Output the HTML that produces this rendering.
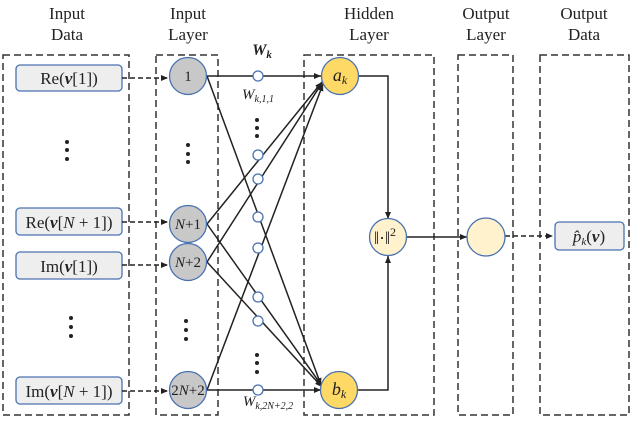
<!DOCTYPE html>
<html><head><meta charset="utf-8"><style>
body{margin:0;background:#fff}
text{font-family:"Liberation Serif",serif;fill:#222}
</style></head><body>
<svg width="632" height="418" viewBox="0 0 632 418" xmlns="http://www.w3.org/2000/svg">
<defs><marker id="a" markerWidth="8" markerHeight="8" refX="7" refY="4" orient="auto" markerUnits="userSpaceOnUse"><path d="M0,1 L7,4 L0,7 Z" fill="#222"/></marker></defs>
<g font-size="17" text-anchor="middle">
<text x="67" y="19">Input</text><text x="67" y="40">Data</text>
<text x="188" y="19">Input</text><text x="188" y="40">Layer</text>
<text x="369" y="19">Hidden</text><text x="369" y="40">Layer</text>
<text x="486" y="19">Output</text><text x="486" y="40">Layer</text>
<text x="584" y="19">Output</text><text x="584" y="40">Data</text>
</g>
<g fill="none" stroke="#333" stroke-width="1.5" stroke-dasharray="7,4">
<rect x="3" y="55" width="126" height="360"/>
<rect x="156" y="55" width="62" height="360"/>
<rect x="304" y="55" width="130" height="360"/>
<rect x="458" y="55" width="55" height="360"/>
<rect x="540" y="55" width="89" height="360"/>
</g>
<g fill="#eeeeee" stroke="#4a72b0" stroke-width="1.3">
<rect x="16" y="65" width="106" height="26" rx="4"/>
<rect x="16" y="208" width="106" height="27" rx="4"/>
<rect x="16" y="252" width="106" height="27" rx="4"/>
<rect x="16" y="377" width="106" height="27" rx="4"/>
<rect x="555" y="222" width="69" height="28" rx="4"/>
</g>
<g font-size="17" text-anchor="middle">
<text x="69" y="84">Re(<tspan font-weight="bold" font-style="italic">v</tspan>[1])</text>
<text x="69" y="228">Re(<tspan font-weight="bold" font-style="italic">v</tspan>[<tspan font-style="italic">N</tspan> + 1])</text>
<text x="69" y="272">Im(<tspan font-weight="bold" font-style="italic">v</tspan>[1])</text>
<text x="69" y="397">Im(<tspan font-weight="bold" font-style="italic">v</tspan>[<tspan font-style="italic">N</tspan> + 1])</text>
<text x="589" y="242"><tspan font-style="italic">p̂</tspan><tspan font-style="italic" font-size="11" dy="3">k</tspan><tspan dy="-3">(</tspan><tspan font-weight="bold" font-style="italic">v</tspan>)</text>
</g>
<g stroke="#222" stroke-width="1.5" stroke-dasharray="5,3" marker-end="url(#a)">
<line x1="122" y1="78" x2="168" y2="78"/>
<line x1="122" y1="222" x2="168" y2="222"/>
<line x1="122" y1="265" x2="168" y2="265"/>
<line x1="122" y1="391" x2="168" y2="391"/>
<line x1="505" y1="236" x2="553" y2="236"/>
</g>
<g stroke="#222" stroke-width="1.5" fill="none" marker-end="url(#a)">
<line x1="207" y1="76" x2="321" y2="76"/>
<line x1="207" y1="76" x2="321" y2="385"/>
<line x1="207" y1="224" x2="322" y2="82"/>
<line x1="207" y1="224" x2="322" y2="386"/>
<line x1="207" y1="262" x2="322" y2="83"/>
<line x1="207" y1="262" x2="322" y2="387"/>
<line x1="207" y1="390" x2="323" y2="84"/>
<line x1="207" y1="390" x2="321" y2="390"/>
<polyline points="358,76 388,76 388,219"/>
<polyline points="358,390 388,390 388,256"/>
<line x1="406" y1="237" x2="467" y2="237"/>
</g>
<g fill="#fff" stroke="#4a72b0" stroke-width="1.3">
<circle cx="258" cy="76" r="5"/><circle cx="258" cy="155" r="5"/><circle cx="258" cy="179" r="5"/>
<circle cx="258" cy="217" r="5"/><circle cx="258" cy="248" r="5"/><circle cx="258" cy="297" r="5"/>
<circle cx="258" cy="321" r="5"/><circle cx="258" cy="390" r="5"/>
</g>
<g fill="#c8c8c8" stroke="#4a72b0" stroke-width="1.3">
<circle cx="188" cy="76" r="18.5"/><circle cx="188" cy="224" r="18.5"/>
<circle cx="188" cy="262" r="18.5"/><circle cx="188" cy="390" r="18.5"/>
</g>
<g fill="#ffd966" stroke="#4a72b0" stroke-width="1.3">
<circle cx="340" cy="76" r="18.5"/><circle cx="339" cy="390" r="18.5"/>
</g>
<g fill="#fff2cc" stroke="#4a72b0" stroke-width="1.3">
<circle cx="388" cy="237" r="18.5"/><circle cx="486" cy="237" r="19"/>
</g>
<g font-size="15" text-anchor="middle">
<text x="188" y="81">1</text>
<text x="188" y="229"><tspan font-style="italic">N</tspan>+1</text>
<text x="188" y="267"><tspan font-style="italic">N</tspan>+2</text>
<text x="188" y="395">2<tspan font-style="italic">N</tspan>+2</text>
<text x="340" y="81" font-style="italic" font-size="18">a<tspan font-size="12" dy="3">k</tspan></text>
<text x="339" y="395" font-style="italic" font-size="18">b<tspan font-size="12" dy="3">k</tspan></text>
<text x="385" y="244" font-size="18">‖·‖<tspan font-size="12" dy="-8">2</tspan></text>
<text x="262" y="55" font-weight="bold" font-style="italic" font-size="16">W<tspan font-size="11" dy="3">k</tspan></text>
<text x="258" y="99" font-style="italic" font-size="15">W<tspan font-size="10" dy="3">k,1,1</tspan></text>
<text x="268" y="406" font-style="italic" font-size="15">W<tspan font-size="10" dy="3">k,2N+2,2</tspan></text>
</g>
<g fill="#222">
<circle cx="67" cy="142" r="2"/><circle cx="67" cy="150" r="2"/><circle cx="67" cy="159" r="2"/>
<circle cx="71" cy="318" r="2"/><circle cx="71" cy="327" r="2"/><circle cx="71" cy="336" r="2"/>
<circle cx="188" cy="145" r="2"/><circle cx="188" cy="154" r="2"/><circle cx="188" cy="162" r="2"/>
<circle cx="186" cy="321" r="2"/><circle cx="186" cy="330" r="2"/><circle cx="186" cy="339" r="2"/>
<circle cx="257" cy="120" r="2"/><circle cx="257" cy="128" r="2"/><circle cx="257" cy="136" r="2"/>
<circle cx="257" cy="355" r="2"/><circle cx="257" cy="363" r="2"/><circle cx="257" cy="372" r="2"/>
</g>
</svg>
</body></html>
